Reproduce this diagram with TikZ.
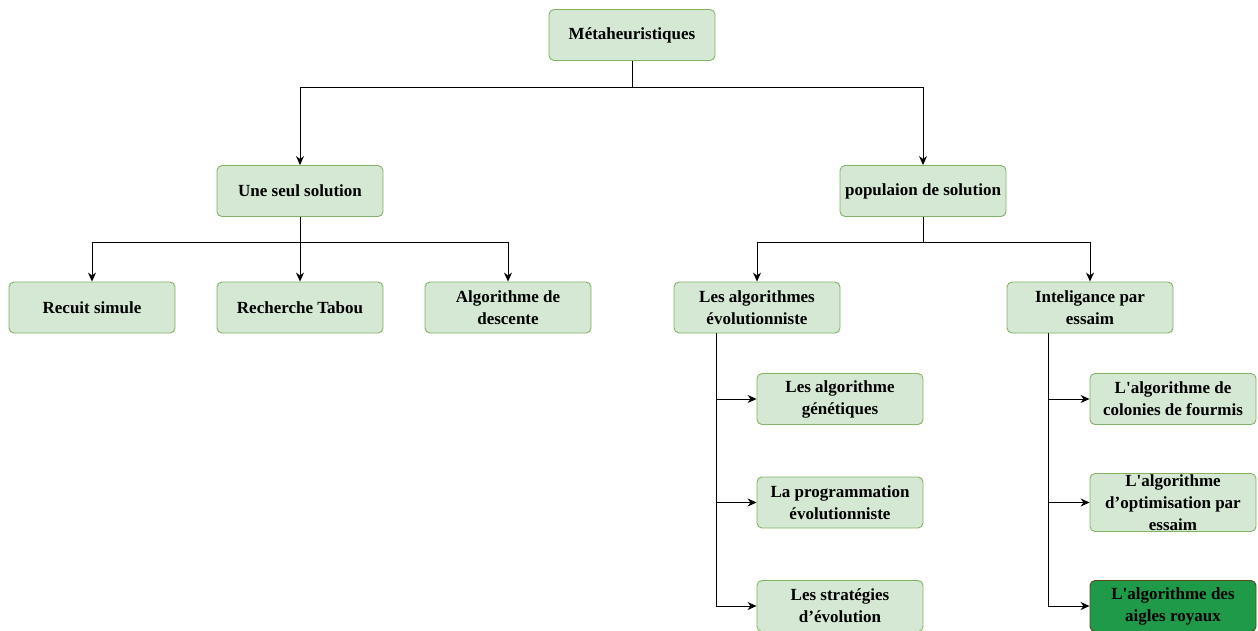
\documentclass[tikz,border=0pt]{standalone}
\usepackage{fontspec}
\setmainfont{Liberation Serif}
\usetikzlibrary{arrows.meta}
\definecolor{boxfill}{HTML}{D5E8D4}
\definecolor{boxline}{HTML}{82B366}
\definecolor{darkfill}{HTML}{1E9A48}
\definecolor{darkline}{HTML}{5A4A14}
\newcommand{\apos}{\textquotesingle}
\begin{document}
\begin{tikzpicture}[x=1pt,y=-1pt,
  box/.style={draw=boxline, fill=boxfill, line width=0.9pt, rounded corners=5pt,
    minimum width=166pt, minimum height=51pt, inner sep=1pt, align=center,
    font=\fontsize{17}{22}\selectfont\bfseries},
  hibox/.style={box, draw=darkline, fill=darkfill},
  link/.style={draw=black, line width=0.9pt},
  arr/.style={link, -{Stealth[length=9pt,width=8pt]}}]
\useasboundingbox (0,0) rectangle (1258,630);
\clip (0,0) rectangle (1258,630);

% tree nodes
\node[box] (meta) at (632,35) {Métaheuristiques};
\node[box] (single) at (300,191) {Une seul solution};
\node[box] (pop) at (923,191) {populaion de solution};
\node[box] (recuit) at (92,307.5) {Recuit simule};
\node[box] (tabou) at (300,307.5) {Recherche Tabou};
\node[box] (desc) at (508,307.5) {Algorithme de\\descente};
\node[box] (evo) at (757,307.5) {Les algorithmes\\évolutionniste};
\node[box] (swarm) at (1090,307.5) {Inteligance par\\essaim};
\node[box] (gen) at (840,399) {Les algorithme\\génétiques};
\node[box] (prog) at (840,502.5) {La programmation\\évolutionniste};
\node[box] (strat) at (840,606) {Les stratégies\\d’évolution};
\node[box] (ants) at (1173,399) {L\apos algorithme de\\colonies de fourmis};
\node[box] (pso) at (1173,502.5) {L\apos algorithme\\d’optimisation par\\essaim};
\node[hibox] (eagle) at (1173,606) {L\apos algorithme des\\aigles royaux};

% first level
\coordinate (j0) at (632,87);
\draw[link] (meta.south) -- (j0);
\draw[arr] (j0) -| (single.north);
\draw[arr] (j0) -| (pop.north);

% single-solution methods
\coordinate (j1) at (300,242);
\draw[link] (single.south) -- (j1);
\draw[arr] (j1) -- (tabou.north);
\draw[arr] (j1) -| (recuit.north);
\draw[arr] (j1) -| (desc.north);

% population-based methods
\coordinate (j2) at (923,242);
\draw[link] (pop.south) -- (j2);
\draw[arr] (j2) -| (evo.north);
\draw[arr] (j2) -| (swarm.north);

% evolutionary algorithms
\coordinate (e0) at (716,333);
\coordinate (e3) at (716,606);
\draw[link] (e0) -- (e3);
\draw[arr] (716,399) -- (gen.west);
\draw[arr] (716,502.5) -- (prog.west);
\draw[arr] (e3) -- (strat.west);

% swarm intelligence
\coordinate (s0) at (1048,333);
\coordinate (s3) at (1048,606);
\draw[link] (s0) -- (s3);
\draw[arr] (1048,399) -- (ants.west);
\draw[arr] (1048,502.5) -- (pso.west);
\draw[arr] (s3) -- (eagle.west);
\end{tikzpicture}
\end{document}
